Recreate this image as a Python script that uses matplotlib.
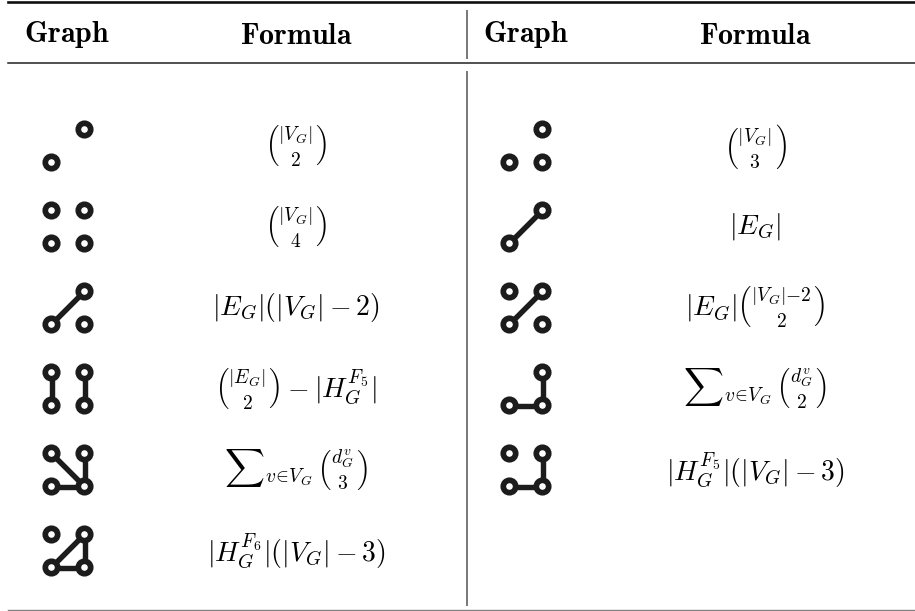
import matplotlib
matplotlib.use("Agg")
import matplotlib.pyplot as plt
from matplotlib.patches import Circle

plt.rcParams['mathtext.fontset'] = 'cm'

# ----------------------
# TABLE DATA
# ----------------------
headers = [r'$\mathbf{Graph}$', r'$\mathbf{Formula}$']

# node slots: 0 = top-left, 1 = top-right, 2 = bottom-left, 3 = bottom-right
left_nodes = [[1, 2], [0, 1, 2, 3], [1, 2, 3], [0, 1, 2, 3], [0, 1, 2, 3], [0, 1, 2, 3]]
left_edges = [[], [], [(1, 2)], [(0, 2), (1, 3)], [(0, 3), (2, 3), (1, 3)], [(1, 2), (2, 3), (1, 3)]]
left_formulas = [
    r'$\binom{|V_G|}{2}$',
    r'$\binom{|V_G|}{4}$',
    r'$|E_G|(|V_G|-2)$',
    r'$\binom{|E_G|}{2}-|H_G^{F_5}|$',
    r'${\sum}_{v\!\in\!V_G}\,\binom{d_G^v}{3}$',
    r'$|H_G^{F_6}|(|V_G|-3)$',
]

right_nodes = [[1, 2, 3], [1, 2], [0, 1, 2, 3], [1, 2, 3], [0, 1, 2, 3]]
right_edges = [[], [(1, 2)], [(1, 2)], [(2, 3), (1, 3)], [(2, 3), (1, 3)]]
right_formulas = [
    r'$\binom{|V_G|}{3}$',
    r'$|E_G|$',
    r'$|E_G|\binom{|V_G|{-}2}{2}$',
    r'${\sum}_{v\!\in\!V_G}\,\binom{d_G^v}{2}$',
    r'$|H_G^{F_5}|(|V_G|-3)$',
]

# ----------------------
# LAYOUT (pixels)
# ----------------------
W, H = 915, 611
ROW0, ROW_STEP = 146, 81
STEP = 33          # node spacing inside a glyph
INK = '#1c1c1c'

fig = plt.figure(figsize=(W / 100, H / 100), dpi=100)
ax = fig.add_axes([0, 0, 1, 1])
ax.set_xlim(0, W)
ax.set_ylim(H, 0)
ax.axis('off')


def draw_graph(cx, cy, nodes, edges):
    pos = {0: (cx - STEP / 2, cy - STEP / 2), 1: (cx + STEP / 2, cy - STEP / 2),
           2: (cx - STEP / 2, cy + STEP / 2), 3: (cx + STEP / 2, cy + STEP / 2)}
    for a, b in edges:
        ax.plot([pos[a][0], pos[b][0]], [pos[a][1], pos[b][1]], color=INK,
                lw=3.9, solid_capstyle='butt', zorder=2)
    for n in nodes:
        ax.add_patch(Circle(pos[n], 6.2, facecolor='white', edgecolor=INK,
                            lw=4.1, zorder=3))


def draw_column(gx, fx, nodes, edges, formulas):
    for i, (nd, ed, f) in enumerate(zip(nodes, edges, formulas)):
        y = ROW0 + i * ROW_STEP
        draw_graph(gx, y, nd, ed)
        ax.text(fx, y, f, fontsize=20, ha='center', va='center', color='black')


draw_column(68, 296, left_nodes, left_edges, left_formulas)
draw_column(526, 755, right_nodes, right_edges, right_formulas)

# header
for gx, fx in [(67, 296), (526, 755)]:
    ax.text(gx, 35, headers[0], fontsize=21.5, ha='center', va='center')
    ax.text(fx, 35, headers[1], fontsize=21.5, ha='center', va='center')

# rules
ax.plot([8, W], [2, 2], color='#111111', lw=1.9)
ax.plot([8, W], [63, 63], color='#222222', lw=1.1)
ax.plot([8, W], [609.5, 609.5], color='#808080', lw=1.0)
ax.plot([467, 467], [11, 58], color='#777777', lw=1.4)
ax.plot([467, 467], [72, 605], color='#777777', lw=1.4)

fig.savefig('out.png', dpi=100)
